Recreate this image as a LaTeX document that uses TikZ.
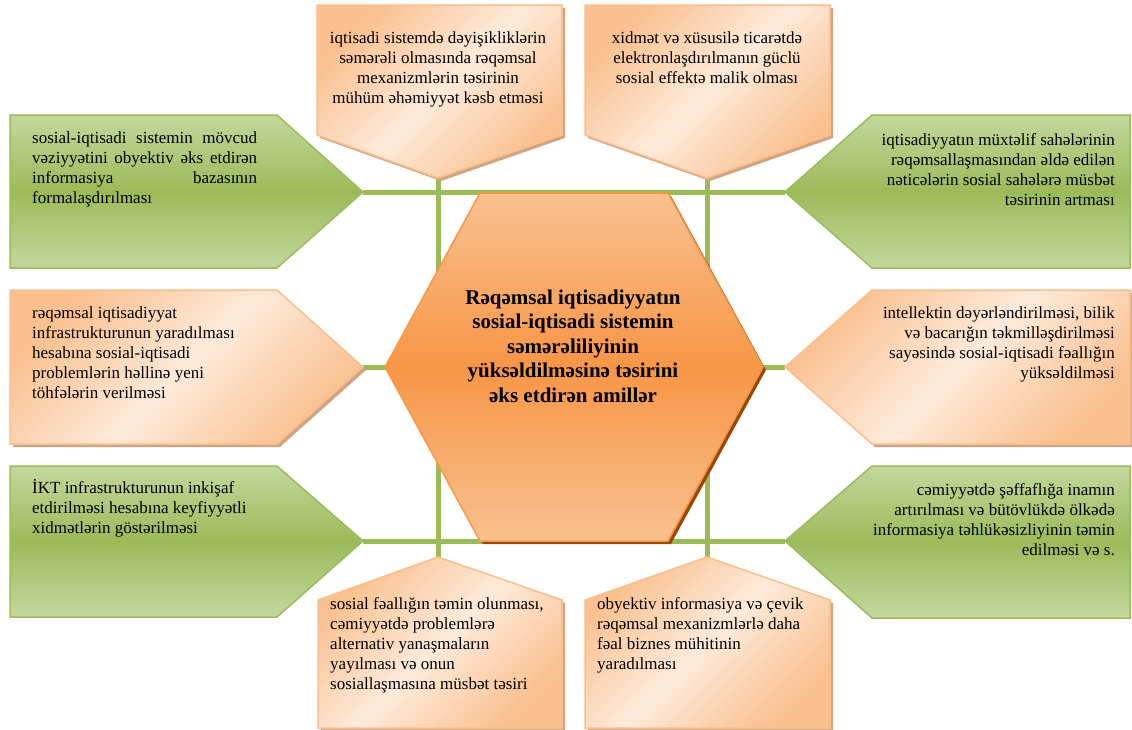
\documentclass[tikz,border=0pt]{standalone}
\usepackage{fontspec}
\setmainfont{Liberation Serif}
\usetikzlibrary{shadings}
\definecolor{grn}{RGB}{155,187,89}
\definecolor{grnlt}{RGB}{196,215,158}
\definecolor{ordk}{RGB}{250,192,143}
\definecolor{orlt}{RGB}{253,234,218}
\definecolor{orbd}{RGB}{250,190,140}
\definecolor{orshadow}{RGB}{205,165,130}
\definecolor{hexmid}{RGB}{247,150,70}
\definecolor{hexlt}{RGB}{249,192,143}
\definecolor{hexsh}{RGB}{152,72,7}
\tikzset{
  greenbox/.style={draw=grn, line width=1.5pt, top color=grnlt, bottom color=grnlt, middle color=grn},
  orangebox/.style={draw=orbd, line width=1.5pt, left color=ordk, right color=ordk, middle color=orlt, shading angle=45},
  shadowbox/.style={fill=orshadow, draw=none},
  link/.style={draw=grn, line width=5pt},
  boxtext/.style={inner sep=0pt, font=\fontsize{17}{20}\selectfont},
  titletext/.style={inner sep=0pt, align=center, font=\fontsize{21}{24.5}\selectfont\bfseries}
}
\begin{document}
\begin{tikzpicture}[x=1pt,y=-1pt]
\useasboundingbox (0,0) rectangle (1132,729);
% named tip coordinates
\coordinate (tipTL) at (438,178);
\coordinate (tipTR) at (707,178);
\coordinate (tipBL) at (438,557);
\coordinate (tipBR) at (707,557);
\coordinate (tipLG1) at (363,192);
\coordinate (tipRG1) at (785,192);
\coordinate (tipLO) at (363,367);
\coordinate (tipRO) at (785,367);
\coordinate (tipLG2) at (363,541);
\coordinate (tipRG2) at (785,541);
% connectors
\draw[link] (tipLG1) -- (tipRG1);
\draw[link] (tipLO) -- (tipRO);
\draw[link] (tipLG2) -- (tipRG2);
\draw[link] (tipTL) -- (tipBL);
\draw[link] (tipTR) -- (tipBR);
% top pentagons
\fill[shadowbox] (320,8) -- (565,8) -- (565,138) -- (441,181) -- (320,138) -- cycle;
\shade[orangebox] (317,5) -- (562,5) -- (562,135) -- (tipTL) -- (317,135) -- cycle;
\fill[shadowbox] (588,8) -- (833,8) -- (833,138) -- (710,181) -- (588,138) -- cycle;
\shade[orangebox] (585,5) -- (830,5) -- (830,135) -- (tipTR) -- (585,135) -- cycle;
% bottom pentagons
\fill[shadowbox] (321,603) -- (441,560) -- (565,603) -- (565,730) -- (321,730) -- cycle;
\shade[orangebox] (318,600) -- (tipBL) -- (562,600) -- (562,728) -- (318,728) -- cycle;
\fill[shadowbox] (588,603) -- (710,560) -- (833,603) -- (833,730) -- (588,730) -- cycle;
\shade[orangebox] (585,600) -- (tipBR) -- (830,600) -- (830,728) -- (585,728) -- cycle;
% green arrows
\shade[greenbox] (10,115) -- (277,115) -- (tipLG1) -- (277,268) -- (10,268) -- cycle;
\shade[greenbox] (tipRG1) -- (872,115) -- (1130,115) -- (1130,268) -- (872,268) -- cycle;
\shade[greenbox] (10,466) -- (277,466) -- (tipLG2) -- (277,617) -- (10,617) -- cycle;
\shade[greenbox] (tipRG2) -- (872,466) -- (1130,466) -- (1130,618) -- (872,618) -- cycle;
% middle orange arrows
\fill[shadowbox] (13,293) -- (280,293) -- (366,370) -- (280,447) -- (13,447) -- cycle;
\shade[orangebox] (10,290) -- (277,290) -- (tipLO) -- (277,444) -- (10,444) -- cycle;
\fill[shadowbox] (788,370) -- (875,293) -- (1133,293) -- (1133,447) -- (875,447) -- cycle;
\shade[orangebox] (tipRO) -- (872,290) -- (1130,290) -- (1130,444) -- (872,444) -- cycle;
% hexagon
\fill[hexsh] (388,370) -- (483,196) -- (671,196) -- (766,370) -- (671,544) -- (483,544) -- cycle;
\shade[draw=hexmid, line width=1.5pt, top color=hexlt, bottom color=hexlt, middle color=hexmid] (385,367) -- (480,193) -- (668,193) -- (763,367) -- (668,541) -- (480,541) -- cycle;
% texts
\node[titletext] (title) at (573,346) {Rəqəmsal iqtisadiyyatın\\sosial-iqtisadi sistemin\\səmərəliliyinin\\yüksəldilməsinə təsirini\\əks etdirən amillər};
\node[boxtext, align=center] (tTL) at (438,69) {iqtisadi sistemdə dəyişikliklərin\\səmərəli olmasında rəqəmsal\\mexanizmlərin təsirinin\\mühüm əhəmiyyət kəsb etməsi};
\node[boxtext, align=center] (tTR) at (707,58) {xidmət və xüsusilə ticarətdə\\elektronlaşdırılmanın güclü\\sosial effektə malik olması};
\node[boxtext, text width=225pt, align=justify, anchor=west] (tLG1) at (32,169) {sosial-iqtisadi sistemin mövcud\linebreak vəziyyətini obyektiv əks etdirən\linebreak informasiya bazasının\linebreak formalaşdırılması};
\node[boxtext, align=right, anchor=east] (tRG1) at (1115,170) {iqtisadiyyatın müxtəlif sahələrinin\\rəqəmsallaşmasından əldə edilən\\nəticələrin sosial sahələrə müsbət\\təsirinin artması};
\node[boxtext, align=left, anchor=west] (tLO) at (32,353) {rəqəmsal iqtisadiyyat\\infrastrukturunun yaradılması\\hesabına sosial-iqtisadi\\problemlərin həllinə yeni\\töhfələrin verilməsi};
\node[boxtext, align=right, anchor=east] (tRO) at (1115,344) {intellektin dəyərləndirilməsi, bilik\\və bacarığın təkmilləşdirilməsi\\sayəsində sosial-iqtisadi fəallığın\\yüksəldilməsi};
\node[boxtext, align=left, anchor=west] (tLG2) at (32,508) {İKT infrastrukturunun inkişaf\\etdirilməsi hesabına keyfiyyətli\\xidmətlərin göstərilməsi};
\node[boxtext, align=right, anchor=east] (tRG2) at (1115,520) {cəmiyyətdə şəffaflığa inamın\\artırılması və bütövlükdə ölkədə\\informasiya təhlükəsizliyinin təmin\\edilməsi və s.};
\node[boxtext, align=left, anchor=west] (tBL) at (330,645) {sosial fəallığın təmin olunması,\\cəmiyyətdə problemlərə\\alternativ yanaşmaların\\yayılması və onun\\sosiallaşmasına müsbət təsiri};
\node[boxtext, align=left, anchor=west] (tBR) at (597,635) {obyektiv informasiya və çevik\\rəqəmsal mexanizmlərlə daha\\fəal biznes mühitinin\\yaradılması};
\end{tikzpicture}
\end{document}
